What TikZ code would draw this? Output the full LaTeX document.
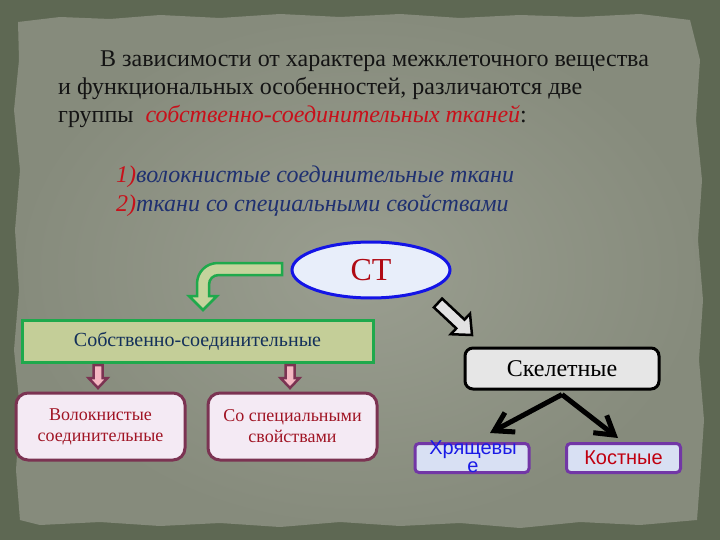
\documentclass[tikz,border=0pt]{standalone}
\usepackage{fontspec}
\setmainfont{Liberation Serif}
\newfontfamily\sansf{Liberation Sans}
\usetikzlibrary{arrows.meta,shapes.geometric,calc}
\definecolor{bgdark}{HTML}{5E6853}
\definecolor{paperin}{HTML}{9A9E90}
\definecolor{paperout}{HTML}{868B7C}
\definecolor{textblack}{HTML}{141414}
\definecolor{redt}{HTML}{C8101A}
\definecolor{bluet}{HTML}{1F3070}
\definecolor{ctfill}{HTML}{E8EEFA}
\definecolor{ctblue}{HTML}{1414E6}
\definecolor{ctred}{HTML}{B00A14}
\definecolor{garrfill}{HTML}{C4D39C}
\definecolor{garrline}{HTML}{1FA94C}
\definecolor{gboxfill}{HTML}{C4CE98}
\definecolor{gboxtext}{HTML}{14305A}
\definecolor{pinkfill}{HTML}{F5B7C2}
\definecolor{maroon}{HTML}{7B3352}
\definecolor{mboxfill}{HTML}{F4EAF4}
\definecolor{mboxtext}{HTML}{A01424}
\definecolor{greyfill}{HTML}{E2E2E2}
\definecolor{skfill}{HTML}{E6E6E6}
\definecolor{pboxfill}{HTML}{D8E0F3}
\definecolor{pboxline}{HTML}{7236A6}
\definecolor{hrtext}{HTML}{1A1AE6}
\definecolor{kosttext}{HTML}{C00010}
\begin{document}
\begin{tikzpicture}[x=1pt,y=-1pt,
  mainline/.style={inner sep=0pt, text=textblack, font=\fontsize{24}{28}\selectfont},
  numline/.style={inner sep=0pt, font=\fontsize{24}{28}\selectfont\itshape},
  ctnode/.style={ellipse, draw=ctblue, line width=3pt, fill=ctfill, minimum width=158, minimum height=56, inner sep=0pt, text=ctred, font=\fontsize{32}{36}\selectfont},
  greenbox/.style={rectangle, draw=garrline, line width=3pt, fill=gboxfill, minimum width=351, minimum height=42, inner sep=0pt, text=gboxtext, font=\fontsize{20}{24}\selectfont},
  pinkarrow/.style={draw=maroon, line width=2.5pt, fill=pinkfill, line join=miter},
  mbox/.style={rectangle, rounded corners=12pt, draw=maroon, line width=3pt, fill=mboxfill, minimum width=169, minimum height=67, inner sep=0pt, align=center, text=mboxtext, font=\fontsize{18}{21}\selectfont},
  greyarrow/.style={draw=black, line width=2.5pt, fill=greyfill, line join=miter},
  skbox/.style={rectangle, rounded corners=8pt, draw=black, line width=3pt, fill=skfill, minimum width=194, minimum height=41, inner sep=0pt, text=black, font=\fontsize{24}{28}\selectfont},
  blackarrow/.style={draw=black, line width=5pt, -{Straight Barb[length=18pt,width=22pt]}},
  pbox/.style={rectangle, rounded corners=4pt, draw=pboxline, line width=3pt, fill=pboxfill, minimum width=114, minimum height=29, inner sep=0pt, font=\sansf\fontsize{20}{24}\selectfont}
]
\useasboundingbox (0,0) rectangle (720,540);
\fill[bgdark] (0,0) rectangle (720,540);
\shade[inner color=paperin, outer color=paperout]
  (18,22) -- (60,17) -- (110,19) -- (160,15) -- (220,18) -- (280,14) -- (340,17) -- (400,14) -- (460,18) -- (520,15) -- (580,17) -- (640,14) -- (690,20)
  -- (700,60) -- (696,120) -- (702,180) -- (698,240) -- (703,300) -- (699,360) -- (704,420) -- (700,480) -- (697,520)
  -- (640,525) -- (580,522) -- (520,528) -- (460,523) -- (400,526) -- (340,522) -- (280,527) -- (220,523) -- (160,526) -- (100,522) -- (40,525) -- (20,520)
  -- (16,470) -- (20,410) -- (14,350) -- (19,290) -- (15,230) -- (20,170) -- (14,110) -- (19,60) -- cycle;

% paragraph
\node[mainline, anchor=base west] (t1) at (100,67) {В зависимости от характера межклеточного вещества};
\node[mainline, anchor=base west] (t2) at (58,95) {и функциональных особенностей, различаются две};
\node[mainline, anchor=base west] (t3) at (58,122.5) {группы\ \ \textcolor{redt}{\itshape собственно-соединительных тканей}:};
\node[numline, anchor=base west] (n1) at (116,183) {\textcolor{redt}{1)}\textcolor{bluet}{волокнистые соединительные ткани}};
\node[numline, anchor=base west] (n2) at (116,211.5) {\textcolor{redt}{2)}\textcolor{bluet}{ткани со специальными свойствами}};

% CT
\node[ctnode] (ct) at (371,270) {СТ};

% green bent arrow
\draw[draw=garrline, line width=2.5pt, fill=garrfill, line join=miter]
  (282,263) -- (218,263) .. controls (206,263) and (197,272) .. (197,284) -- (197,296) -- (189,296) -- (203,310) -- (217,296) -- (209,296) -- (209,285)
  .. controls (209,279) and (213,275) .. (219,275) -- (282,275) -- cycle;

\node[greenbox] (sob) at (197.5,341.5) {Собственно-соединительные};

% pink arrows
\draw[pinkarrow] (93.5,365) -- (102.5,365) -- (102.5,378) -- (107.5,378) -- (98,388) -- (88.5,378) -- (93.5,378) -- cycle;
\draw[pinkarrow] (285.5,365) -- (294.5,365) -- (294.5,378) -- (299.5,378) -- (290,388) -- (280.5,378) -- (285.5,378) -- cycle;

\node[mbox] (vol) at (100.5,426.5) {Волокнистые\\соединительные};
\node[mbox] (spec) at (292.5,426.5) {Со специальными\\свойствами};

% grey arrow
\draw[greyarrow] (433.9,307.4) -- (442.1,298.6) -- (464.5,319.6) -- (470.0,313.8) -- (472,335) -- (450.8,334.2) -- (456.3,328.4) -- cycle;

\node[skbox] (skel) at (562,368.5) {Скелетные};

\node[pbox] (hr) at (472,458) {};
\node[pbox] (kost) at (623.5,458) {\textcolor{kosttext}{Костные}};
\node[inner sep=0pt, anchor=north, align=center, text=hrtext, font=\sansf\fontsize{20}{18.5}\selectfont] (hrtxt) at (473,440.5) {Хрящевы\\е};

\coordinate (fork) at ($(skel.south)+(0,4)$);
\coordinate (hrtip) at (490,433);
\coordinate (kosttip) at (618,438);
\draw[blackarrow] (fork) -- (hrtip);
\draw[blackarrow] (fork) -- (kosttip);
\end{tikzpicture}
\end{document}
